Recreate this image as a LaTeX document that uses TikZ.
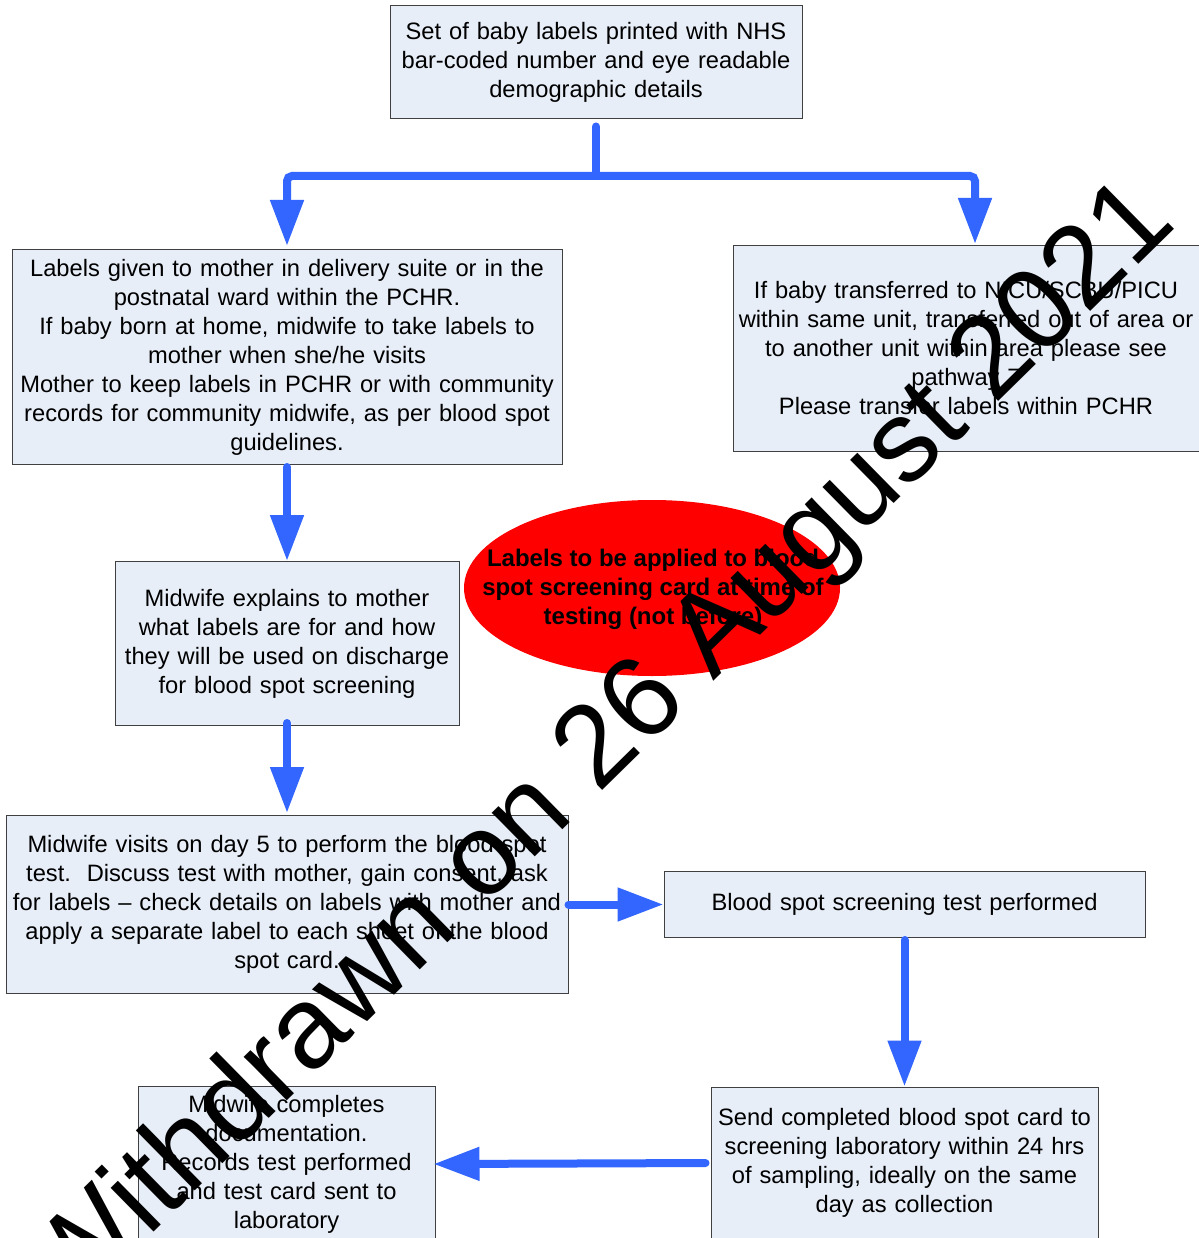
\documentclass[tikz,border=0pt]{standalone}
\usepackage{fontspec}
\setmainfont{Liberation Sans}
\usetikzlibrary{arrows.meta,shapes.geometric}
\definecolor{boxfill}{HTML}{E7EEF8}
\definecolor{boxline}{HTML}{404040}
\definecolor{arrowblue}{HTML}{3366FF}
\definecolor{ovalred}{HTML}{FF0000}
\newcommand{\boxfont}{\fontsize{23.7}{29}\selectfont}
\newcommand{\ovalfont}{\fontsize{24}{29}\selectfont\bfseries}
\newcommand{\wmfont}{\fontsize{116}{130}\selectfont}
\tikzset{
  flowbox/.style={draw=boxline, fill=boxfill, line width=1pt, align=center, inner sep=0pt, font=\boxfont},
  flowarrow/.style={draw=arrowblue, line width=8pt, line cap=round, -{Triangle[length=46pt,width=32pt]}},
  ovalnote/.style={ellipse, fill=ovalred, inner sep=0pt},
  ovaltext/.style={align=center, inner sep=0pt, font=\ovalfont},
  watermark/.style={rotate=44.5, anchor=base west, inner sep=0pt, font=\wmfont, text=black}
}
\begin{document}
\begin{tikzpicture}[x=1pt,y=-1pt]
\useasboundingbox (0,0) rectangle (1198,1238);
\fill[white] (0,0) rectangle (1198,1238);

\node[flowbox, minimum width=412pt, minimum height=113pt, text width=410pt] (top) at (596,62.5)
  {Set of baby labels printed with NHS\\bar-coded number and eye readable\\demographic details};
\node[flowbox, minimum width=550pt, minimum height=215pt, text width=548pt] (lab) at (287,357)
  {Labels given to mother in delivery suite or in the\\postnatal ward within the PCHR.\\If baby born at home, midwife to take labels to\\mother when she/he visits\\Mother to keep labels in PCHR or with community\\records for community midwife, as per blood spot\\guidelines.};
\node[flowbox, minimum width=466pt, minimum height=206pt, text width=464pt] (nicu) at (966,348.5)
  {If baby transferred to NICU/SCBU/PICU\\within same unit, transferred out of area or\\to another unit within area please see\\pathway 7\\Please transfer labels within PCHR};
\node[flowbox, minimum width=344pt, minimum height=164pt, text width=342pt] (expl) at (287,643.5)
  {Midwife explains to mother\\what labels are for and how\\they will be used on discharge\\for blood spot screening};
\node[flowbox, minimum width=562pt, minimum height=178pt, text width=560pt] (visit) at (287,904.5)
  {Midwife visits on day 5 to perform the blood spot\\test.\ \ Discuss test with mother, gain consent, ask\\for labels -- check details on labels with mother and\\apply a separate label to each sheet of the blood\\spot card.};
\node[flowbox, minimum width=481pt, minimum height=66pt, text width=479pt] (perf) at (904.5,904.5)
  {Blood spot screening test performed};
\node[flowbox, minimum width=387pt, minimum height=152pt, text width=385pt] (send) at (904.5,1163)
  {Send completed blood spot card to\\screening laboratory within 24 hrs\\of sampling, ideally on the same\\day as collection};
\node[flowbox, minimum width=297pt, minimum height=156pt, text width=295pt] (done) at (286.5,1164)
  {Midwife completes\\documentation.\\Records test performed\\and test card sent to\\laboratory};

\node[ovalnote, minimum width=376pt, minimum height=176pt] (oval) at (652,588) {};
\node[ovaltext] (ovaltxt) at (653,589)
  {Labels to be applied to blood\\spot screening card at time of\\testing (not before)};

\coordinate (split) at (596,176);
\coordinate (rightin) at (975,245);
\draw[draw=arrowblue, line width=8pt, line cap=round, shorten <=7pt] (top.south) -- (split);
\draw[flowarrow, rounded corners=5pt, shorten >=3pt] (split) -| (lab.north);
\draw[flowarrow, rounded corners=5pt, shorten >=1pt] (split) -| (rightin);
\draw[flowarrow, shorten <=2pt] (lab.south) -- (expl.north);
\draw[flowarrow, shorten <=-3pt, shorten >=2pt] (expl.south) -- (visit.north);
\draw[flowarrow] (visit.east) -- (perf.west);
\draw[flowarrow, shorten <=2pt] (perf.south) -- (send.north);
\draw[flowarrow, shorten <=5pt, shorten >=-2pt] (send.west) -- (done.east);

\node[watermark] (wm) at (70,1314) {Withdrawn on 26 August 2021};
\end{tikzpicture}
\end{document}
